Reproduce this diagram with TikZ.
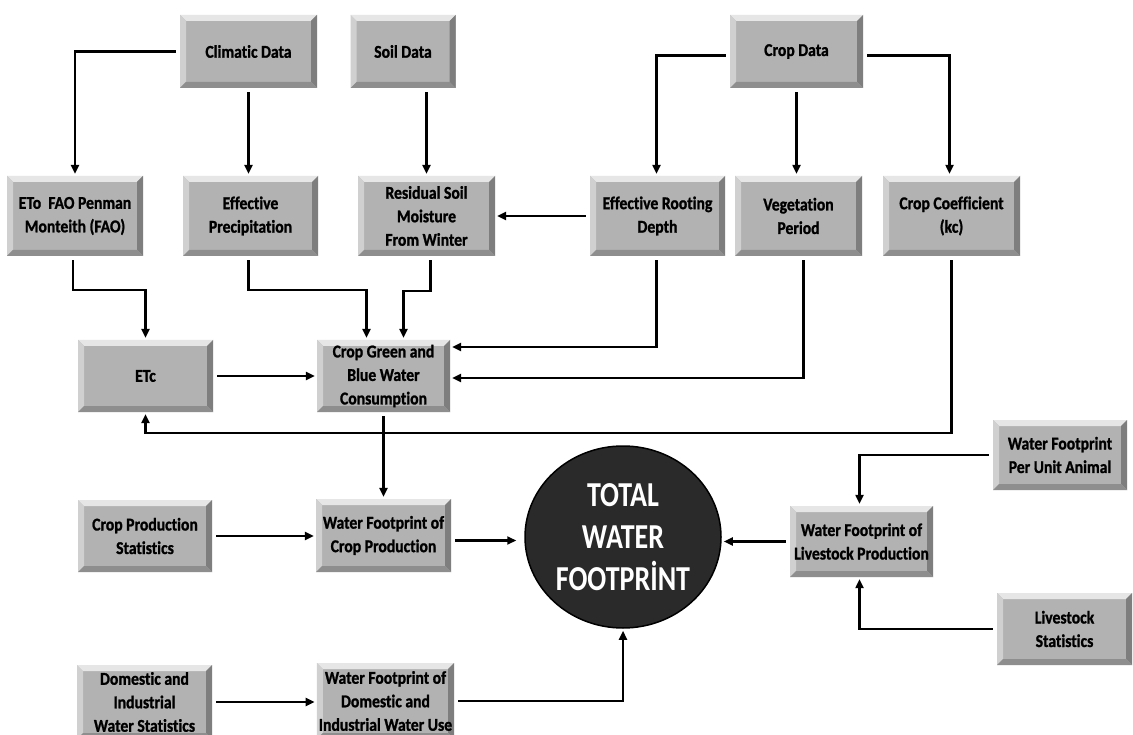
\documentclass[tikz,border=0pt]{standalone}
\usepackage{fontspec}
\setmainfont{Carlito}[Ligatures=CommonOff]
\newfontfamily\boxfont{Carlito}[FakeStretch=0.87,Ligatures=CommonOff,BoldFeatures={FakeBold=1.2}]
\newfontfamily\ballfont{Carlito}[FakeStretch=0.8,Ligatures=CommonOff]
\usetikzlibrary{arrows.meta,shapes.geometric}
\definecolor{boxgray}{HTML}{B2B2B2}
\definecolor{bevlight}{HTML}{E6E6E6}
\definecolor{bevside}{HTML}{D0D0D0}
\definecolor{bevdark}{HTML}{7E7E7E}
\definecolor{bevbot}{HTML}{8E8E8E}
\definecolor{ballfill}{HTML}{2A2A2A}
\tikzset{
  gbox/.style={rectangle, fill=boxgray, inner sep=2pt, align=center,
    text=black, font=\boxfont\bfseries\fontsize{18}{23.5}\selectfont,
    path picture={
      \fill[bevlight] (path picture bounding box.north west) -- (path picture bounding box.north east)
        -- ([xshift=-6pt,yshift=-6pt]path picture bounding box.north east)
        -- ([xshift=6pt,yshift=-6pt]path picture bounding box.north west) -- cycle;
      \fill[bevside] (path picture bounding box.north west) -- ([xshift=6pt,yshift=-6pt]path picture bounding box.north west)
        -- ([xshift=6pt,yshift=6pt]path picture bounding box.south west) -- (path picture bounding box.south west) -- cycle;
      \fill[bevdark] (path picture bounding box.north east) -- ([xshift=-6pt,yshift=-6pt]path picture bounding box.north east)
        -- ([xshift=-6pt,yshift=6pt]path picture bounding box.south east) -- (path picture bounding box.south east) -- cycle;
      \fill[bevbot] (path picture bounding box.south west) -- ([xshift=6pt,yshift=6pt]path picture bounding box.south west)
        -- ([xshift=-6pt,yshift=6pt]path picture bounding box.south east) -- (path picture bounding box.south east) -- cycle;
    }},
  ball/.style={ellipse, draw=black, line width=1.5pt, fill=ballfill, inner sep=0pt,
    minimum width=196pt, minimum height=182pt},
  balltext/.style={align=center, text=white, inner sep=0pt,
    font=\ballfont\bfseries\fontsize{35}{42}\selectfont},
  conn/.style={line width=2.2pt, black, -{Triangle[width=8pt,length=9pt]}, shorten <=4pt, shorten >=2pt},
}
\begin{document}
\begin{tikzpicture}[x=1pt,y=-1pt]
\useasboundingbox[fill=white] (0,0) rectangle (1133,735);
% row 1
\node[gbox, minimum width=137pt, minimum height=73pt] (clim) at (248.5,51.5) {Climatic Data};
\node[gbox, minimum width=105pt, minimum height=73pt] (soil) at (403,51.5) {Soil Data};
\node[gbox, minimum width=133pt, minimum height=73pt] (crop) at (796.5,51.5) {Crop Data};
% row 2
\node[gbox, minimum width=136pt, minimum height=80pt] (eto) at (75,216) {ETo\ \ FAO Penman\\Monteith (FAO)};
\node[gbox, minimum width=135pt, minimum height=80pt] (effp) at (250.5,216) {Effective\\Precipitation};
\node[gbox, minimum width=137pt, minimum height=80pt] (resid) at (426.5,216) {Residual Soil\\Moisture\\From Winter};
\node[gbox, minimum width=135pt, minimum height=80pt] (root) at (657.5,216) {Effective Rooting\\Depth};
\node[gbox, minimum width=127pt, minimum height=80pt] (veg) at (798.5,216) {Vegetation\\Period};
\node[gbox, minimum width=137pt, minimum height=80pt] (kc) at (951.5,216) {Crop Coefficient\\(kc)};
% row 3
\node[gbox, minimum width=135pt, minimum height=72pt] (etc) at (145.5,376) {ETc};
\node[gbox, minimum width=133pt, minimum height=72pt] (green) at (383.5,376) {Crop Green and\\Blue Water\\Consumption};
% row 4
\node[gbox, minimum width=134pt, minimum height=72pt] (cps) at (145,536) {Crop Production\\Statistics};
\node[gbox, minimum width=135pt, minimum height=73pt] (wfc) at (383.5,535.5) {Water Footprint of\\Crop Production};
\node[ball] (tot) at (623,537) {};
\node[balltext] (tottext) at (tot.center) {TOTAL\\WATER\\FOOTPRİNT};
\node[gbox, minimum width=134pt, minimum height=70pt] (wfpua) at (1060,455) {Water Footprint\\Per Unit Animal};
\node[gbox, minimum width=143pt, minimum height=71pt] (wfl) at (861.5,541.5) {Water Footprint of\\Livestock Production};
\node[gbox, minimum width=135pt, minimum height=72pt] (lvs) at (1064.5,629) {Livestock\\Statistics};
% row 5
\node[gbox, minimum width=135pt, minimum height=74pt] (dom) at (144.5,702) {Domestic and\\Industrial\\Water Statistics};
\node[gbox, minimum width=135pt, minimum height=76pt] (wfd) at (385.5,701) {Water Footprint of\\Domestic and\\Industrial Water Use};
% connectors
\draw[conn] (clim.west) -| (eto.north);
\draw[conn] (clim.south) -- (clim.south |- effp.north);
\draw[conn] (soil.south -| resid.north) -- (resid.north);
\draw[conn] ([yshift=-4pt]crop.west) -| ([xshift=-1pt]root.north);
\draw[conn] (crop.south) -- (crop.south |- veg.north);
\draw[conn] ([yshift=-4pt]crop.east) -| ([xshift=-2pt]kc.north);
\draw[conn] (root.west) -- (resid.east);
\draw[conn] ([xshift=-2pt]eto.south) -- ++(0,34) -| (etc.north);
\draw[conn] ([xshift=-2pt]effp.south) -- ++(0,34) -| ([xshift=-17pt]green.north);
\draw[conn] ([xshift=4pt]resid.south) -- ++(0,35) -| ([xshift=20pt]green.north);
\draw[conn] ([xshift=-1pt]root.south) |- ([yshift=29pt]green.east);
\draw[conn] ([xshift=5pt]veg.south) |- ([yshift=-2pt]green.east);
\draw[conn] (kc.south) -- ++(0,177) -| (etc.south);
\draw[conn] (etc.east) -- (green.west);
\draw[conn] (green.south) -- (wfc.north);
\draw[conn] (cps.east) -- (cps.east -| wfc.west);
\draw[conn] ([yshift=-5pt]wfc.east) -- ([xshift=-6pt,yshift=-5pt]wfc.east -| tot.west);
\draw[conn] (wfl.west) -- (wfl.west -| tot.east);
\draw[conn] (wfpua.west) -| ([xshift=-2pt]wfl.north);
\draw[conn] (lvs.west) -| ([xshift=-2pt]wfl.south);
\draw[conn] (dom.east) -- (dom.east -| wfd.west);
\draw[conn] (wfd.east) -| (tot.south);
\end{tikzpicture}
\end{document}
